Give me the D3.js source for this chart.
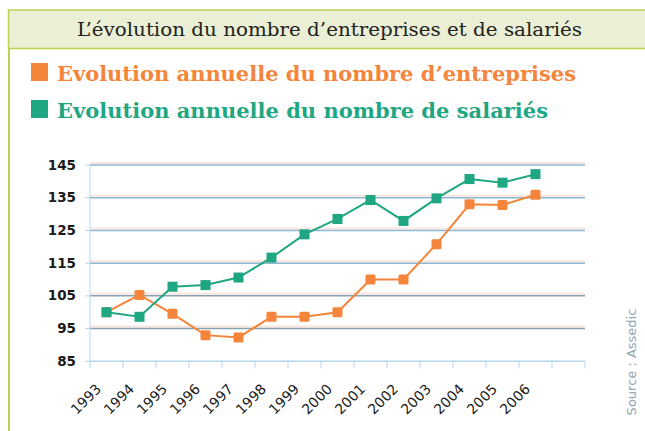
<!DOCTYPE html>
<html>
<head>
<meta charset="utf-8">
<script src="https://cdn.jsdelivr.net/npm/d3@7"></script>
<style>
  body { margin: 0; background: #fff; }
  svg { display: block; }
</style>
</head>
<body>
<script>
const years = ['1993', '1994', '1995', '1996', '1997', '1998', '1999', '2000',
    '2001', '2002', '2003', '2004', '2005', '2006', ''];
const entreprises = [100, 105.3, 99.5, 93, 92.3, 98.6, 98.6, 100, 110, 110, 120.8, 133, 132.8, 135.9];
const salaries = [100, 98.6, 107.8, 108.3, 110.6, 116.7, 123.8, 128.5, 134.3, 127.9, 134.8, 140.7, 139.6, 142.2];
const yTicks = [85, 95, 105, 115, 125, 135, 145];

const width = 645, height = 431;
const orange = '#f5853a', green = '#1fa682';

const svg = d3.select('body').append('svg')
    .attr('width', width)
    .attr('height', height);

// title box
svg.append('rect')
    .attr('x', 8.5).attr('y', 10)
    .attr('width', 660).attr('height', 38.5)
    .attr('fill', '#ebefd5')
    .attr('stroke', '#b9d24f')
    .attr('stroke-width', 1.5);
svg.append('line')
    .attr('x1', 9).attr('x2', 9)
    .attr('y1', 48).attr('y2', height)
    .attr('stroke', '#b9d24f')
    .attr('stroke-width', 2);
svg.append('text')
    .attr('x', 77).attr('y', 36)
    .attr('font-family', 'DejaVu Serif, serif')
    .attr('font-size', 18.5)
    .attr('fill', '#222')
    .attr('textLength', 505)
    .attr('lengthAdjust', 'spacingAndGlyphs')
    .text('L\u2019évolution du nombre d\u2019entreprises et de salariés');

// legend
const legend = [
    {label: 'Evolution annuelle du nombre d\u2019entreprises', color: orange, y: 81, len: 519},
    {label: 'Evolution annuelle du nombre de salariés', color: green, y: 118, len: 491}
];
legend.forEach(l => {
    svg.append('rect')
        .attr('x', 31).attr('y', l.y - 18)
        .attr('width', 17).attr('height', 18)
        .attr('fill', l.color);
    svg.append('text')
        .attr('x', 57).attr('y', l.y)
        .attr('font-family', 'DejaVu Serif, serif')
        .attr('font-weight', 'bold')
        .attr('font-size', 20)
        .attr('fill', l.color)
        .attr('textLength', l.len)
        .attr('lengthAdjust', 'spacingAndGlyphs')
        .text(l.label);
});

// scales
const x = d3.scaleBand()
    .domain(years)
    .range([90, 585]);
const y = d3.scaleLinear()
    .domain([85, 145])
    .range([361.3, 165]);

// grid lines
const grid = svg.append('g');
grid.selectAll('line.glow')
    .data(yTicks.slice(1))
    .join('line')
    .attr('x1', 90).attr('x2', 585)
    .attr('y1', d => y(d) - 2).attr('y2', d => y(d) - 2)
    .attr('stroke', '#fbe6de')
    .attr('stroke-width', 2);
grid.selectAll('line.main')
    .data(yTicks.slice(1))
    .join('line')
    .attr('x1', 90).attr('x2', 585)
    .attr('y1', d => y(d)).attr('y2', d => y(d))
    .attr('stroke', d => d <= 105 ? '#86a3b3' : '#8bb8d2')
    .attr('stroke-width', 1.5);

// axes
const axisColor = '#b5d6ea';
svg.append('line')
    .attr('x1', 90).attr('x2', 90)
    .attr('y1', y(145)).attr('y2', y(85))
    .attr('stroke', axisColor);
svg.append('line')
    .attr('x1', 90).attr('x2', 585)
    .attr('y1', y(85)).attr('y2', y(85))
    .attr('stroke', axisColor)
    .attr('stroke-width', 1.5);
svg.selectAll('line.ytick')
    .data(yTicks)
    .join('line')
    .attr('x1', 85).attr('x2', 90)
    .attr('y1', d => y(d)).attr('y2', d => y(d))
    .attr('stroke', axisColor);
svg.selectAll('line.xtick')
    .data(years.map(d => x(d)).concat([585]))
    .join('line')
    .attr('x1', d => d).attr('x2', d => d)
    .attr('y1', y(85)).attr('y2', y(85) + 7)
    .attr('stroke', axisColor);

svg.selectAll('text.ylab')
    .data(yTicks)
    .join('text')
    .attr('x', 76)
    .attr('y', d => y(d) + 4.5)
    .attr('text-anchor', 'end')
    .attr('font-family', 'DejaVu Sans, sans-serif')
    .attr('font-weight', 'bold')
    .attr('font-size', 13.5)
    .attr('fill', '#1a1a1a')
    .text(d => d);

svg.selectAll('text.xlab')
    .data(years.filter(d => d))
    .join('text')
    .attr('transform', d => 'translate(' + (x(d) + 12) + ',' + 390 + ') rotate(-45)')
    .attr('text-anchor', 'end')
    .attr('font-family', 'DejaVu Sans, sans-serif')
    .attr('font-size', 14)
    .attr('fill', '#1a1a1a')
    .text(d => d);

// series
const line = d3.line()
    .x((d, i) => x(years[i]) + x.bandwidth() / 2)
    .y(d => y(d));

[{data: entreprises, color: orange}, {data: salaries, color: green}].forEach(s => {
    svg.append('path')
        .attr('d', line(s.data))
        .attr('fill', 'none')
        .attr('stroke', s.color)
        .attr('stroke-width', 2);
    svg.append('g').selectAll('rect')
        .data(s.data)
        .join('rect')
        .attr('x', (d, i) => x(years[i]) + x.bandwidth() / 2 - 5)
        .attr('y', d => y(d) - 5)
        .attr('width', 10).attr('height', 10)
        .attr('rx', s.color === orange ? 1.5 : 0)
        .attr('fill', s.color);
});

// source
svg.append('text')
    .attr('transform', 'translate(636,362) rotate(-90)')
    .attr('text-anchor', 'middle')
    .attr('font-family', 'DejaVu Sans, sans-serif')
    .attr('font-size', 13)
    .attr('fill', '#8ea3b3')
    .text('Source : Assedic');
</script>
</body>
</html>
